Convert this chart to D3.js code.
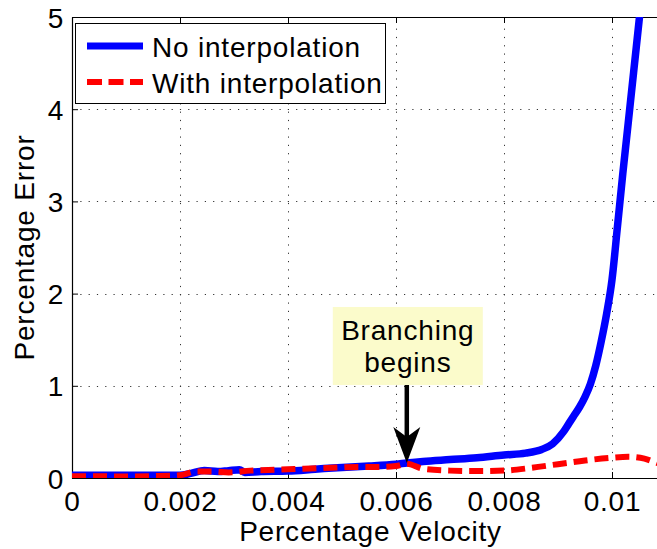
<!DOCTYPE html>
<html>
<head>
<meta charset="utf-8">
<script src="https://cdn.jsdelivr.net/npm/d3@7/dist/d3.min.js"></script>
<style>
  html, body { margin: 0; padding: 0; background: #fff; }
  svg { display: block; font-family: "Liberation Sans", Arial, Helvetica, sans-serif; }
  text { letter-spacing: 0.8px; }
</style>
</head>
<body>
<svg id="chart" width="657" height="549"></svg>
<script>
// Percentage error against percentage velocity
const xTicks = [0, 0.002, 0.004, 0.006, 0.008, 0.01];
const xTickLabels = ["0", "0.002", "0.004", "0.006", "0.008", "0.01"];
const yTicks = [0, 1, 2, 3, 4, 5];
const yTickLabels = ["0", "1", "2", "3", "4", "5"];

const seriesNames = ["No interpolation", "With interpolation"];

const noInterpX = [0, 0.0005, 0.001, 0.0015, 0.002, 0.0022, 0.00245, 0.0027, 0.0029, 0.0031, 0.0032,
  0.0035, 0.004, 0.0045, 0.005, 0.0055, 0.006, 0.0062, 0.0065, 0.007, 0.0075, 0.008, 0.0084,
  0.0087, 0.0089, 0.0091, 0.0092, 0.0093, 0.0094, 0.0095, 0.0096, 0.0097, 0.0098,
  0.0099, 0.01, 0.0101, 0.0102, 0.0103, 0.0104, 0.0105, 0.0106];
const noInterpY = [0.03, 0.03, 0.03, 0.03, 0.03, 0.05, 0.08, 0.07, 0.08, 0.09, 0.06,
  0.07, 0.075, 0.095, 0.115, 0.13, 0.15, 0.163, 0.18, 0.2, 0.22, 0.25, 0.27,
  0.31, 0.37, 0.5, 0.59, 0.68, 0.77, 0.88, 1.02, 1.22, 1.48,
  1.78, 2.15, 2.72, 3.3, 3.85, 4.4, 4.95, 5.5];

const withInterpX = [0, 0.0005, 0.001, 0.0015, 0.002, 0.0023, 0.0026, 0.0029, 0.0033, 0.0038,
  0.0043, 0.0048, 0.0053, 0.0057, 0.006, 0.0062, 0.0065, 0.007, 0.0075, 0.008, 0.0085,
  0.009, 0.0095, 0.01, 0.0103, 0.0106, 0.0108, 0.011];
const withInterpY = [0.02, 0.02, 0.015, 0.02, 0.03, 0.07, 0.07, 0.06, 0.08, 0.09,
  0.1, 0.11, 0.12, 0.12, 0.13, 0.155, 0.1, 0.08, 0.075, 0.08, 0.11,
  0.15, 0.19, 0.22, 0.23, 0.21, 0.17, 0.13];

// annotation: where the two curves branch
const branchX = 0.0062;
const branchY = 0.163;
const branchText = ["Branching", "begins"];

const xLabel = "Percentage Velocity";
const yLabel = "Percentage Error";

const svg = d3.select("#chart");
const margin = { left: 72, top: 17, bottom: 478 };
const xMax = 0.011;

const x = d3.scaleLinear().domain([0, xMax]).range([margin.left, margin.left + xMax * 54000]);
const y = d3.scaleLinear().domain([0, 5]).range([margin.bottom, margin.top]);

const plotW = x(xMax) - x(0);
const plotH = y(0) - y(5);

svg.append("defs").append("clipPath").attr("id", "plot-clip")
  .append("rect").attr("x", x(0)).attr("y", y(5)).attr("width", plotW).attr("height", plotH);

// dotted grid
const grid = svg.append("g").attr("stroke", "#333").attr("stroke-width", 1)
  .attr("stroke-dasharray", "1.2,7.1");
grid.selectAll("line.gx").data(xTicks.slice(1)).join("line")
  .attr("x1", d => Math.round(x(d)) + 0.5).attr("x2", d => Math.round(x(d)) + 0.5)
  .attr("y1", y(0)).attr("y2", y(5));
grid.selectAll("line.gy").data(yTicks.slice(1, -1)).join("line")
  .attr("y1", d => Math.round(y(d)) + 0.5).attr("y2", d => Math.round(y(d)) + 0.5)
  .attr("x1", x(0)).attr("x2", x(xMax));

// axes
const fontSize = 28;
const xAxis = d3.axisBottom(x).tickValues(xTicks).tickFormat((d, i) => xTickLabels[i])
  .tickSizeInner(-6).tickSizeOuter(0).tickPadding(13);
svg.append("g").attr("transform", `translate(0,${y(0)})`).call(xAxis);
const xTop = d3.axisTop(x).tickValues(xTicks).tickFormat("").tickSizeInner(-6).tickSizeOuter(0);
svg.append("g").attr("transform", `translate(0,${y(5)})`).call(xTop);
const yAxis = d3.axisLeft(y).tickValues(yTicks).tickFormat((d, i) => yTickLabels[i])
  .tickSizeInner(-6).tickSizeOuter(0).tickPadding(8);
const gy = svg.append("g").attr("transform", `translate(${x(0)},0)`).call(yAxis);
const yRight = d3.axisRight(y).tickValues(yTicks).tickFormat("").tickSizeInner(-6).tickSizeOuter(0);
svg.append("g").attr("transform", `translate(${x(xMax)},0)`).call(yRight);

svg.selectAll(".domain").attr("stroke", "#000").attr("stroke-width", 1.2);
svg.selectAll(".tick line").attr("stroke", "#000").attr("stroke-width", 1);
svg.selectAll(".tick text").attr("font-size", fontSize).attr("fill", "#000")
  .attr("font-family", "'Liberation Sans', Arial, sans-serif");
gy.selectAll(".tick text").attr("dy", "0.36em");

// axis titles
svg.append("text").attr("x", (x(0) + 657) / 2 + 6).attr("y", 541)
  .attr("text-anchor", "middle").attr("font-size", fontSize).text(xLabel);
svg.append("text").attr("transform", `translate(34,${(y(0) + y(5)) / 2}) rotate(-90)`)
  .attr("text-anchor", "middle").attr("font-size", fontSize).text(yLabel);

// curves
const line = d3.line().x(d => x(d[0])).y(d => y(d[1])).curve(d3.curveMonotoneX);
const plot = svg.append("g").attr("clip-path", "url(#plot-clip)");
plot.append("path").datum(d3.zip(noInterpX, noInterpY))
  .attr("d", line).attr("fill", "none").attr("stroke", "#0000ff")
  .attr("stroke-width", 7.5).attr("stroke-linejoin", "round");
plot.append("path").datum(d3.zip(withInterpX, withInterpY))
  .attr("d", line).attr("fill", "none").attr("stroke", "#ff0000")
  .attr("stroke-width", 6).attr("stroke-dasharray", "14,7");

// annotation box and arrow
const ax = x(branchX);
const tipY = y(branchY);
const boxW = 150, boxH = 78, headLen = 36, headHalf = 13.5;
const boxBottom = tipY - 78;
svg.append("rect").attr("x", ax - boxW / 2 + 1).attr("y", boxBottom - boxH)
  .attr("width", boxW).attr("height", boxH).attr("fill", "#fbfbcb");
const label = svg.append("text").attr("text-anchor", "middle").attr("font-size", fontSize);
branchText.forEach((t, i) => {
  label.append("tspan").attr("x", ax + 1).attr("y", boxBottom - boxH + 33 + i * 32).text(t);
});
svg.append("line").attr("x1", ax).attr("x2", ax).attr("y1", boxBottom).attr("y2", tipY - headLen + 12)
  .attr("stroke", "#000").attr("stroke-width", 4.5);
svg.append("path")
  .attr("d", `M${ax},${tipY} L${ax - headHalf},${tipY - headLen} L${ax},${tipY - headLen + 10} L${ax + headHalf},${tipY - headLen} Z`)
  .attr("fill", "#000");

// legend
const lg = svg.append("g");
lg.append("rect").attr("x", 75.5).attr("y", 23.5).attr("width", 310).attr("height", 80)
  .attr("fill", "#fff").attr("stroke", "#000").attr("stroke-width", 1);
const legendStyles = [
  { color: "#0000ff", width: 7, dash: null, y: 46 },
  { color: "#ff0000", width: 6, dash: "15,6.5", y: 82 }
];
legendStyles.forEach((s, i) => {
  lg.append("line").attr("x1", 87).attr("x2", 143).attr("y1", s.y).attr("y2", s.y)
    .attr("stroke", s.color).attr("stroke-width", s.width).attr("stroke-dasharray", s.dash);
  lg.append("text").attr("x", 152).attr("y", s.y + 10.5).attr("font-size", fontSize).text(seriesNames[i]);
});
</script>
</body>
</html>
